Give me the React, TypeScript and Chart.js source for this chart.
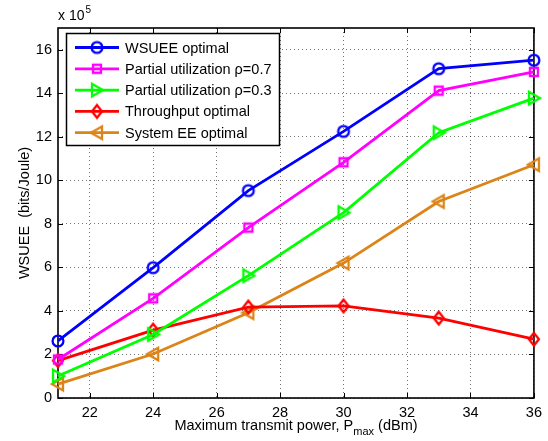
import React, { useEffect, useRef } from "react";
import { Chart, registerables } from "chart.js";

Chart.register(...registerables);

const FONT = '"Liberation Sans", Arial, Helvetica, sans-serif';

const powerLevels = [21, 24, 27, 30, 33, 36];
const wsueeOptimal = [2.62, 5.99, 9.53, 12.25, 15.13, 15.52];
const partialUtil07 = [1.77, 4.58, 7.83, 10.83, 14.12, 14.98];
const partialUtil03 = [1.01, 2.92, 5.62, 8.52, 12.19, 13.78];
const throughputOptimal = [1.72, 3.12, 4.18, 4.23, 3.67, 2.7];
const systemEEOptimal = [0.64, 2.02, 3.92, 6.2, 9.03, 10.72];

const xTickValues = [22, 24, 26, 28, 30, 32, 34, 36];
const yTickValues = [0, 2, 4, 6, 8, 10, 12, 14, 16];

const seriesLabels = [
  "WSUEE optimal",
  "Partial utilization \u03c1=0.7",
  "Partial utilization \u03c1=0.3",
  "Throughput optimal",
  "System EE optimal",
];
const seriesValues = [wsueeOptimal, partialUtil07, partialUtil03, throughputOptimal, systemEEOptimal];
const seriesColors = ["#0000ff", "#ff00ff", "#00ff00", "#ff0000", "#db8418"];
const seriesMarkers = ["circle", "square", "triRight", "diamond", "triLeft"];

function makeMarker(kind: string, color: string): HTMLCanvasElement {
  const s = 20;
  const c = document.createElement("canvas");
  c.width = s;
  c.height = s;
  const ctx = c.getContext("2d")!;
  ctx.strokeStyle = color;
  ctx.lineWidth = 2.3;
  ctx.lineJoin = "miter";
  const m = s / 2;
  ctx.beginPath();
  switch (kind) {
    case "circle":
      ctx.arc(m, m, 5.4, 0, Math.PI * 2);
      break;
    case "square":
      ctx.rect(m - 4, m - 4, 8, 8);
      break;
    case "diamond":
      ctx.moveTo(m, m - 6.3);
      ctx.lineTo(m + 5, m);
      ctx.lineTo(m, m + 6.3);
      ctx.lineTo(m - 5, m);
      ctx.closePath();
      break;
    case "triRight":
      ctx.moveTo(m + 6, m);
      ctx.lineTo(m - 5, m - 6.3);
      ctx.lineTo(m - 5, m + 6.3);
      ctx.closePath();
      break;
    case "triLeft":
      ctx.moveTo(m - 6, m);
      ctx.lineTo(m + 5, m - 6.3);
      ctx.lineTo(m + 5, m + 6.3);
      ctx.closePath();
      break;
  }
  ctx.stroke();
  return c;
}

export default function App() {
  const canvasRef = useRef<HTMLCanvasElement | null>(null);

  useEffect(() => {
    const canvas = canvasRef.current;
    if (!canvas) return;
    const markers = seriesMarkers.map((k, i) => makeMarker(k, seriesColors[i]));

    const decor = {
      id: "decor",
      beforeDatasetsDraw(chart: any) {
        const { ctx, chartArea: a, scales } = chart;
        ctx.save();
        ctx.strokeStyle = "#000";
        ctx.lineWidth = 1;
        ctx.beginPath();
        for (const v of xTickValues) {
          const px = Math.round(scales.x.getPixelForValue(v)) + 0.5;
          ctx.moveTo(px, a.bottom);
          ctx.lineTo(px, a.bottom - 5);
          ctx.moveTo(px, a.top);
          ctx.lineTo(px, a.top + 5);
        }
        for (const v of yTickValues) {
          const py = Math.round(scales.y.getPixelForValue(v)) + 0.5;
          ctx.moveTo(a.left, py);
          ctx.lineTo(a.left + 5, py);
          ctx.moveTo(a.right, py);
          ctx.lineTo(a.right - 5, py);
        }
        ctx.stroke();
        ctx.lineWidth = 1.6;
        ctx.strokeRect(a.left, a.top, a.right - a.left, a.bottom - a.top);
        ctx.restore();
      },
      afterDraw(chart: any) {
        const { ctx, chartArea: a } = chart;
        ctx.save();
        // legend
        const lx = 66.5, ly = 33.5, lw = 213, lh = 112;
        ctx.fillStyle = "#fff";
        ctx.fillRect(lx, ly, lw, lh);
        ctx.strokeStyle = "#000";
        ctx.lineWidth = 1.5;
        ctx.strokeRect(lx, ly, lw, lh);
        ctx.font = `14.5px ${FONT}`;
        ctx.textBaseline = "middle";
        ctx.textAlign = "left";
        seriesLabels.forEach((label, i) => {
          const y = 47.5 + i * 21.3;
          ctx.strokeStyle = seriesColors[i];
          ctx.lineWidth = 2.8;
          ctx.beginPath();
          ctx.moveTo(75, y);
          ctx.lineTo(119, y);
          ctx.stroke();
          const mk = markers[i];
          ctx.drawImage(mk, 97 - mk.width / 2, y - mk.height / 2);
          ctx.fillStyle = "#000";
          ctx.fillText(label, 125, y + 1);
        });

        // x axis title with subscript
        ctx.fillStyle = "#000";
        ctx.textBaseline = "alphabetic";
        const mainFont = `14.5px ${FONT}`;
        const subFont = `11px ${FONT}`;
        const p1 = "Maximum transmit power, P";
        const p2 = "max";
        const p3 = " (dBm)";
        ctx.font = mainFont;
        const w1 = ctx.measureText(p1).width;
        const w3 = ctx.measureText(p3).width;
        ctx.font = subFont;
        const w2 = ctx.measureText(p2).width;
        const total = w1 + w2 + w3;
        const x0 = (a.left + a.right) / 2 - total / 2;
        const by = 430;
        ctx.font = mainFont;
        ctx.fillText(p1, x0, by);
        ctx.font = subFont;
        ctx.fillText(p2, x0 + w1, by + 5);
        ctx.font = mainFont;
        ctx.fillText(p3, x0 + w1 + w2, by);

        // y axis title
        ctx.save();
        ctx.translate(29, (a.top + a.bottom) / 2);
        ctx.rotate(-Math.PI / 2);
        ctx.textAlign = "center";
        ctx.font = mainFont;
        ctx.fillText("WSUEE  (bits/Joule)", 0, 0);
        ctx.restore();

        // exponent
        ctx.textAlign = "left";
        ctx.font = `14px ${FONT}`;
        ctx.fillText("x 10", 58, 20);
        const wx = ctx.measureText("x 10").width;
        ctx.font = `10px ${FONT}`;
        ctx.fillText("5", 58 + wx + 1, 13);
        ctx.restore();
      },
    };

    const chart = new Chart(canvas, {
      type: "line",
      data: {
        datasets: seriesValues.map((vals, i) => ({
          label: seriesLabels[i],
          data: powerLevels.map((x, j) => ({ x, y: vals[j] })),
          borderColor: seriesColors[i],
          backgroundColor: seriesColors[i],
          borderWidth: 2.8,
          pointStyle: markers[i] as any,
          pointRadius: 6,
          fill: false,
          tension: 0,
          clip: false as any,
        })),
      },
      options: {
        responsive: false,
        animation: false,
        events: [],
        layout: { padding: { top: 28, right: 13, left: 0, bottom: 0 } },
        plugins: {
          legend: { display: false },
          tooltip: { enabled: false },
        },
        scales: {
          x: {
            type: "linear",
            min: 21,
            max: 36,
            afterBuildTicks: (s: any) => {
              s.ticks = xTickValues.map((v) => ({ value: v }));
            },
            afterFit: (s: any) => {
              s.height = 43;
            },
            grid: { color: "rgba(0,0,0,0.55)", lineWidth: 1, drawTicks: false },
            border: { display: false, dash: [1, 3] },
            ticks: {
              color: "#000",
              font: { family: FONT, size: 14.5 },
              padding: 6,
              maxRotation: 0,
              autoSkip: false,
            },
          },
          y: {
            type: "linear",
            min: 0,
            max: 17,
            afterBuildTicks: (s: any) => {
              s.ticks = yTickValues.map((v) => ({ value: v }));
            },
            afterFit: (s: any) => {
              s.width = 58;
            },
            grid: { color: "rgba(0,0,0,0.55)", lineWidth: 1, drawTicks: false },
            border: { display: false, dash: [1, 3] },
            ticks: {
              color: "#000",
              font: { family: FONT, size: 14.5 },
              padding: 6,
              autoSkip: false,
            },
          },
        },
      },
      plugins: [decor],
    });

    return () => {
      chart.destroy();
    };
  }, []);

  return (
    <div style={{ position: "absolute", left: 0, top: 0, width: 548, height: 441, background: "#fff" }}>
      <canvas ref={canvasRef} width={548} height={441} style={{ display: "block" }} />
    </div>
  );
}
